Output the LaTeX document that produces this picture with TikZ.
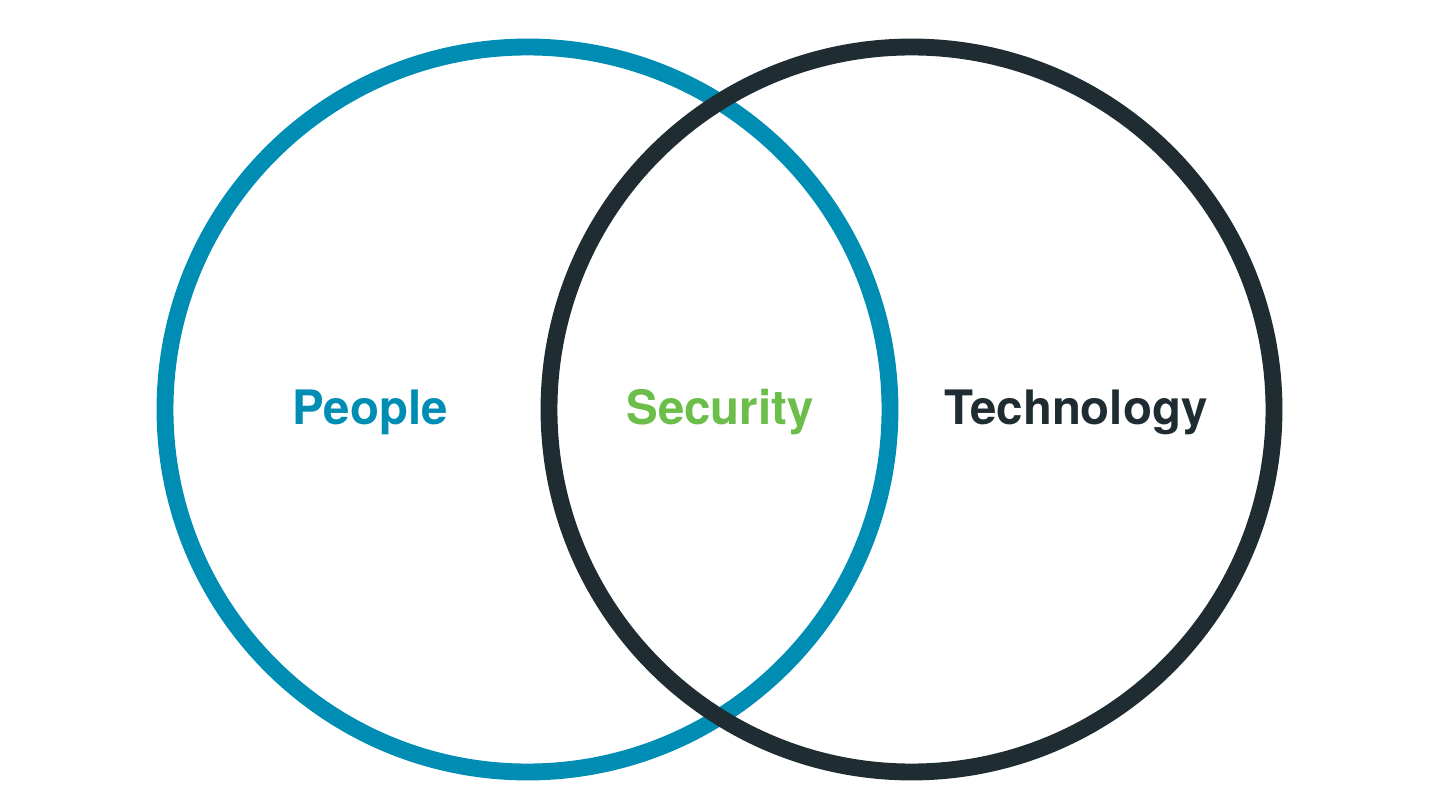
\documentclass[tikz,border=0pt]{standalone}
\usepackage{fontspec}
\setmainfont{TeX Gyre Heros}
\definecolor{peopleblue}{HTML}{008DB4}
\definecolor{techdark}{HTML}{1F2D33}
\definecolor{securegreen}{HTML}{6CBE4B}
\tikzset{
    ring/.style={line width=9.6pt},
    label/.style={anchor=base, font=\fontsize{27}{30}\selectfont\bfseries}
}
\begin{document}
\begin{tikzpicture}[x=0.02cm, y=-0.02cm]
        \useasboundingbox (0, 0) rectangle (1440, 810);
        \coordinate (pc) at (527.5, 409.5);
        \coordinate (tc) at (911.5, 409.5);
        % circles, dark one on top
        \draw[ring, peopleblue] (pc) circle[radius=362.5];
        \draw[ring, techdark] (tc) circle[radius=362.5];
        \node[label, text=peopleblue] (people) at (370, 425) {People};
        \node[label, text=securegreen] (security) at (720, 425) {Security};
        \node[label, text=techdark] (tech) at (1076, 425) {Technology};
    \end{tikzpicture}
\end{document}
